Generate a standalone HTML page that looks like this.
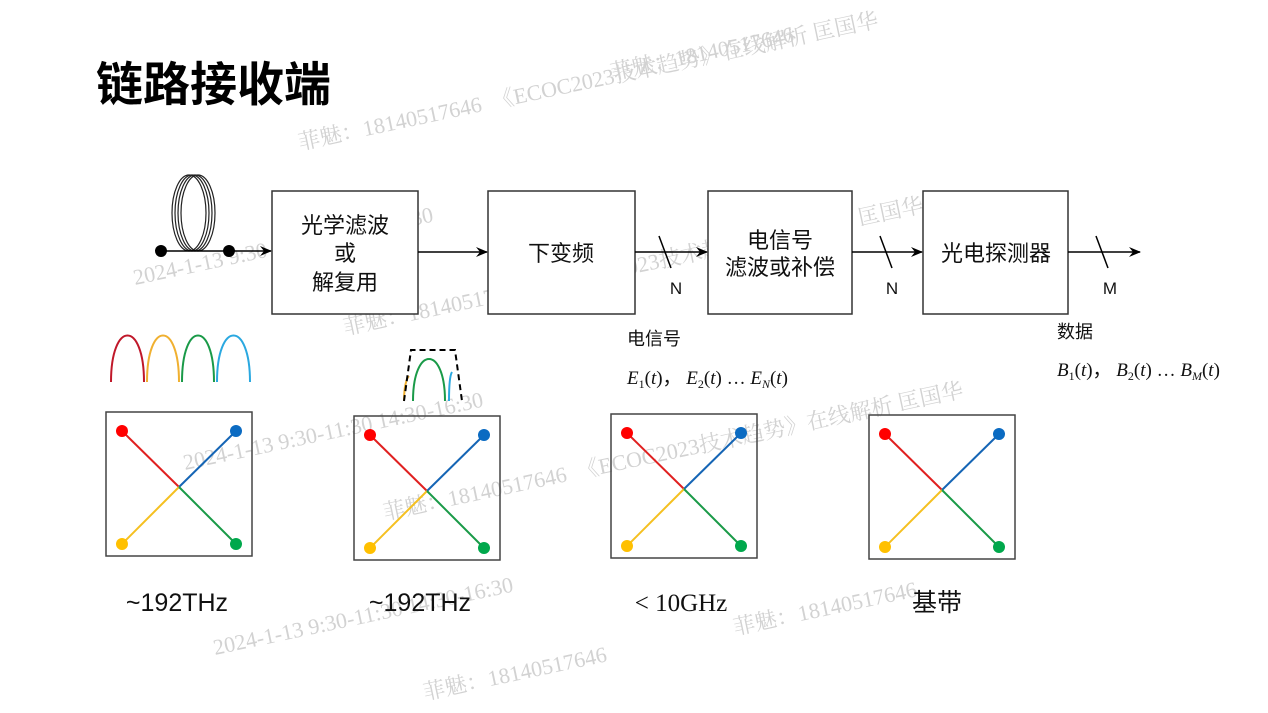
<!DOCTYPE html>
<html><head><meta charset="utf-8"><style>
html,body{margin:0;padding:0;background:#fff;width:1268px;height:713px;overflow:hidden}
svg{display:block}
text{font-family:"Liberation Sans","Noto Sans CJK SC",sans-serif}
text.wm{fill:#d2d2d2;font-family:"Liberation Serif","Noto Serif CJK SC",serif;font-size:22px}
text.m{font-family:"Liberation Serif",serif;font-size:19px}
</style></head><body>
<svg width="1268" height="713" viewBox="0 0 1268 713" xmlns="http://www.w3.org/2000/svg">
<defs>
<marker id="ar" markerWidth="12" markerHeight="10" refX="11" refY="5" orient="auto" markerUnits="userSpaceOnUse">
<path d="M0,0 L12,5 L0,10 L4,5 Z" fill="#000"/></marker>
<g id="sq">
<rect x="0" y="0" width="146" height="144" fill="none" stroke="#444" stroke-width="1.5"/>
<line x1="16" y1="19" x2="73" y2="75" stroke="#e02020" stroke-width="2"/>
<line x1="130" y1="19" x2="73" y2="75" stroke="#1565b5" stroke-width="2"/>
<line x1="16" y1="132" x2="73" y2="75" stroke="#f5c020" stroke-width="2"/>
<line x1="130" y1="132" x2="73" y2="75" stroke="#1a9a48" stroke-width="2"/>
<circle cx="16" cy="19" r="6" fill="#f00"/>
<circle cx="130" cy="19" r="6" fill="#0b6bc2"/>
<circle cx="16" cy="132" r="6" fill="#ffc000"/>
<circle cx="130" cy="132" r="6" fill="#00a84c"/>
</g>
</defs>

<!-- watermarks -->
<text class="wm" x="612" y="80" transform="rotate(-12 612 80)">菲魅：18140517646</text>
<text class="wm" x="300" y="150" transform="rotate(-12 300 150)">菲魅：18140517646　《ECOC2023技术趋势》在线解析  匡国华</text>
<text class="wm" x="135" y="285" transform="rotate(-12 135 285)">2024-1-13  9:30-11:30  14:30-16:30</text>
<text class="wm" x="345" y="335" transform="rotate(-12 345 335)">菲魅：18140517646　《ECOC2023技术趋势》在线解析  匡国华</text>
<text class="wm" x="185" y="470" transform="rotate(-12 185 470)">2024-1-13  9:30-11:30  14:30-16:30</text>
<text class="wm" x="385" y="520" transform="rotate(-12 385 520)">菲魅：18140517646　《ECOC2023技术趋势》在线解析  匡国华</text>
<text class="wm" x="215" y="655" transform="rotate(-12 215 655)">2024-1-13  9:30-11:30  14:30-16:30</text>
<text class="wm" x="735" y="635" transform="rotate(-12 735 635)">菲魅：18140517646</text>
<text class="wm" x="425" y="700" transform="rotate(-12 425 700)">菲魅：18140517646</text>

<text x="96" y="101" font-weight="bold" fill="#000" style="font-size:47px">链路接收端</text>

<!-- coil -->
<g fill="none" stroke="#222" stroke-width="1.2">
<ellipse cx="189" cy="213" rx="17" ry="38"/>
<ellipse cx="192" cy="213" rx="17" ry="38"/>
<ellipse cx="195" cy="213" rx="17" ry="38"/>
<ellipse cx="198" cy="213" rx="17" ry="38"/>
</g>
<line x1="161" y1="251" x2="271" y2="251" stroke="#000" stroke-width="1.5" marker-end="url(#ar)"/>
<circle cx="161" cy="251" r="6" fill="#000"/>
<circle cx="229" cy="251" r="6" fill="#000"/>

<!-- boxes -->
<g fill="#fff" stroke="#333" stroke-width="1.5">
<rect x="272" y="191" width="146" height="123"/>
<rect x="488" y="191" width="147" height="123"/>
<rect x="708" y="191" width="144" height="123"/>
<rect x="923" y="191" width="145" height="123"/>
</g>
<g font-size="22" fill="#111" text-anchor="middle">
<text x="345" y="233">光学滤波</text>
<text x="345" y="261">或</text>
<text x="345" y="290">解复用</text>
<text x="561" y="261">下变频</text>
<text x="780" y="248">电信号</text>
<text x="780" y="275">滤波或补偿</text>
<text x="996" y="261">光电探测器</text>
</g>
<g stroke="#000" stroke-width="1.5">
<line x1="418" y1="252" x2="487" y2="252" marker-end="url(#ar)"/>
<line x1="635" y1="252" x2="707" y2="252" marker-end="url(#ar)"/>
<line x1="852" y1="252" x2="922" y2="252" marker-end="url(#ar)"/>
<line x1="1068" y1="252" x2="1140" y2="252" marker-end="url(#ar)"/>
<line x1="659" y1="236" x2="671" y2="268"/>
<line x1="880" y1="236" x2="892" y2="268"/>
<line x1="1096" y1="236" x2="1108" y2="268"/>
</g>
<g font-size="17" fill="#111" text-anchor="middle">
<text x="676" y="294">N</text>
<text x="892" y="294">N</text>
<text x="1110" y="294">M</text>
</g>
<text x="627" y="345" font-size="18" fill="#111">电信号</text>
<text class="m" x="627" y="384" fill="#111"><tspan font-style="italic">E</tspan><tspan font-size="12" dy="4">1</tspan><tspan dy="-4">(</tspan><tspan font-style="italic">t</tspan>)，  <tspan font-style="italic">E</tspan><tspan font-size="12" dy="4">2</tspan><tspan dy="-4">(</tspan><tspan font-style="italic">t</tspan>) … <tspan font-style="italic">E</tspan><tspan font-size="12" dy="4" font-style="italic">N</tspan><tspan dy="-4">(</tspan><tspan font-style="italic">t</tspan>)</text>
<text x="1057" y="338" font-size="18" fill="#111">数据</text>
<text class="m" x="1057" y="376" fill="#111"><tspan font-style="italic">B</tspan><tspan font-size="12" dy="4">1</tspan><tspan dy="-4">(</tspan><tspan font-style="italic">t</tspan>)，  <tspan font-style="italic">B</tspan><tspan font-size="12" dy="4">2</tspan><tspan dy="-4">(</tspan><tspan font-style="italic">t</tspan>) … <tspan font-style="italic">B</tspan><tspan font-size="12" dy="4" font-style="italic">M</tspan><tspan dy="-4">(</tspan><tspan font-style="italic">t</tspan>)</text>

<!-- spectra -->
<g fill="none" stroke-width="2">
<path d="M111,382 C111,320 144,320 144,382" stroke="#c0182a"/>
<path d="M147,382 C147,320 179,320 179,382" stroke="#f0b030"/>
<path d="M182,382 C182,320 214,320 214,382" stroke="#1a9a48"/>
<path d="M217,382 C217,320 250,320 250,382" stroke="#2aa8e0"/>
<path d="M413,401 C413,345 445,345 445,401" stroke="#1a9a48"/>
<path d="M404,401 C404,385 407,378 409,376" stroke="#f0b030"/>
<path d="M449,401 C449,385 450,375 452,372" stroke="#2aa8e0"/>
<path d="M404,401 L411,350 L455,350 L462,401" stroke="#000" stroke-dasharray="6,4"/>
</g>

<use href="#sq" x="106" y="412"/>
<use href="#sq" x="354" y="416"/>
<use href="#sq" x="611" y="414"/>
<use href="#sq" x="869" y="415"/>

<g font-size="25" fill="#111" text-anchor="middle">
<text x="177" y="611">~192THz</text>
<text x="420" y="611">~192THz</text>
<text x="681" y="611" style="font-family:'Liberation Serif',serif">&lt; 10GHz</text>
<text x="937" y="611">基带</text>
</g>
</svg>
</body></html>
